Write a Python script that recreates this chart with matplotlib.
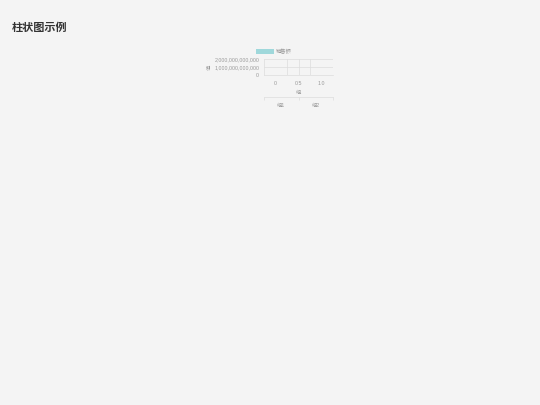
import matplotlib
matplotlib.use("Agg")
import matplotlib.pyplot as plt
from matplotlib.patches import Patch
from matplotlib.ticker import FuncFormatter

plt.rcParams['font.family'] = ['Liberation Sans', 'Noto Sans CJK SC']

title = "柱状图示例"
series_name = "销售额"
y_label = "值"
x_label = "组"
groups = ["组1", "组2"]
values = [0, 0]
y_ticks = [0, 1000000000000, 2000000000000]
x_ticks = [0, 0.5, 1.0]

bg = "#f4f4f4"
bar_color = "#9fd8db"
txt = "#999999"
grid = "#dddddd"

fig = plt.figure(figsize=(5.4, 4.05), dpi=100, facecolor=bg)
fig.text(12/540, 1 - 28/405, title, fontsize=8, fontweight="bold", color="#333333", va="center")

ax = fig.add_axes([264/540, 1 - 75/405, 69/540, 16/405], facecolor=bg)
ax.bar(range(len(groups)), values, color=bar_color, width=0.4)
ax.set_xlim(-0.25, 1.25)
ax.set_ylim(0, 2000000000000)
ax.set_yticks(y_ticks)
ax.set_xticks(x_ticks)
ax.set_xticklabels(["0", "0.5", "1.0"])
ax.yaxis.set_major_formatter(FuncFormatter(lambda v, p: "{:,.0f}".format(v)))
ax.grid(True, axis="y", which="major", color=grid, lw=0.5)
for gx in [0.25, 0.5, 0.75]:
    ax.axvline(gx, color=grid, lw=0.5, zorder=0)
ax.tick_params(which="both", length=0, labelsize=3.8, labelcolor=txt)
ax.tick_params(axis="x", pad=4)
ax.tick_params(axis="y", pad=3.5)
for s in ["top", "right"]:
    ax.spines[s].set_visible(False)
for s in ["left", "bottom"]:
    ax.spines[s].set_color(grid)
    ax.spines[s].set_linewidth(0.5)
ax.set_ylabel(y_label, fontsize=3.8, color=txt, labelpad=1.5)
ax.set_xlabel(x_label, fontsize=3.8, color=txt, labelpad=3.5)
ax.set_axisbelow(True)

# facet label axis underneath
ax2 = fig.add_axes([264/540, 1 - 97/405, 69/540, 0.001], facecolor=bg)
ax2.set_xlim(-0.5, len(groups) - 0.5)
ax2.set_xticks(range(len(groups)))
ax2.set_xticklabels(groups)
ax2.set_xticks([-0.5, 0.5, 1.5], minor=True)
ax2.set_yticks([])
for s in ["top", "right", "left"]:
    ax2.spines[s].set_visible(False)
ax2.spines["bottom"].set_color(grid)
ax2.spines["bottom"].set_linewidth(0.5)
ax2.tick_params(which="major", length=0, labelsize=3.8, labelcolor=txt, pad=4)
ax2.tick_params(which="minor", length=2, direction="out", color=grid, width=0.5)

fig.legend(handles=[Patch(facecolor=bar_color, label=series_name)],
           loc="center left", bbox_to_anchor=(256/540, 1 - 52/405), frameon=False,
           fontsize=3.8, handlelength=3.4, handleheight=1.1, labelcolor=txt,
           handletextpad=0.4, borderpad=0, borderaxespad=0)

fig.savefig("out.png", dpi=100, facecolor=bg)
